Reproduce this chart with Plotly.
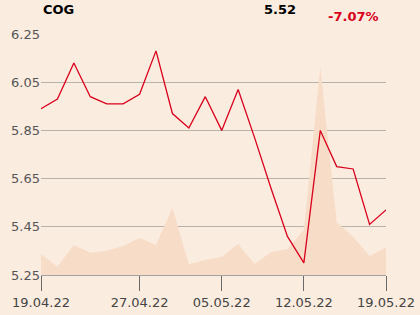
import plotly.graph_objects as go

dates = ["19.04.22", "20.04.22", "21.04.22", "22.04.22", "25.04.22", "26.04.22",
         "27.04.22", "28.04.22", "29.04.22", "02.05.22", "04.05.22", "05.05.22",
         "06.05.22", "09.05.22", "10.05.22", "11.05.22", "12.05.22", "13.05.22",
         "16.05.22", "17.05.22", "18.05.22", "19.05.22"]
price = [5.94, 5.98, 6.13, 5.99, 5.96, 5.96, 6.00, 6.18, 5.92, 5.86, 5.99, 5.85,
         6.02, 5.82, 5.61, 5.41, 5.30, 5.85, 5.70, 5.69, 5.46, 5.52]
volume = [2100, 830, 3000, 2230, 2430, 2900, 3700, 3000, 6700, 1070, 1500, 1830,
          3100, 1100, 2270, 2600, 4500, 20800, 5270, 3830, 1900, 2730]
tick_labels = ["19.04.22", "27.04.22", "05.05.22", "12.05.22", "19.05.22"]
y_ticks = [5.25, 5.45, 5.65, 5.85, 6.05, 6.25]

BG = "#fbece0"
FONT = "DejaVu Sans"

# trading-day index positions (gaps for weekends/holidays removed)
x_idx = list(range(len(dates)))
tick_idx = [dates.index(t) for t in tick_labels]

fig = go.Figure()
fig.add_trace(go.Scatter(x=x_idx, y=volume, yaxis="y", mode="lines",
                         fill="tozeroy", fillcolor="#f7dcc7",
                         line=dict(width=0, color="#f7dcc7"), hoverinfo="skip"))
fig.add_trace(go.Scatter(x=x_idx, y=price, yaxis="y2", mode="lines",
                         customdata=dates,
                         line=dict(color="#d9001b", width=1.3)))

fig.update_layout(
    width=420, height=315,
    margin=dict(l=41, r=34, t=34, b=40),
    paper_bgcolor=BG, plot_bgcolor=BG,
    showlegend=False,
    font=dict(family=FONT, size=13, color="#444444"),
    xaxis=dict(type="linear",
               range=[0, len(dates) - 1], automargin=False,
               tickmode="array", tickvals=tick_idx, ticktext=tick_labels,
               showgrid=False, zeroline=False,
               showline=True, linecolor="#a3a3a3", linewidth=1,
               ticks="outside", ticklen=15, tickcolor="#6a6a6a", tickwidth=1,
               tickfont=dict(family=FONT, size=13, color="#444444")),
    yaxis=dict(range=[0, 24100], showgrid=False, automargin=False,
               showticklabels=False, zeroline=False, showline=False, ticks=""),
    yaxis2=dict(overlaying="y", side="left", range=[5.25, 6.25], tickvals=y_ticks,
                ticktext=[f"{v:.2f}" for v in y_ticks], automargin=False,
                showgrid=True, gridcolor="#b8b2ac", gridwidth=1,
                zeroline=False, showline=False, ticks="",
                tickfont=dict(family=FONT, size=13, color="#555555")),
)

def px(x):
    return (x - 41) / 345

def py(y):
    return (275 - y) / 241

fig.add_annotation(text="<b>COG</b>", x=px(41), y=py(10), xref="paper", yref="paper",
                   xanchor="left", yanchor="middle", showarrow=False,
                   font=dict(family=FONT, size=13, color="#000000"))
fig.add_annotation(text="<b>5.52</b>", x=px(262), y=py(10), xref="paper", yref="paper",
                   xanchor="left", yanchor="middle", showarrow=False,
                   font=dict(family=FONT, size=13, color="#000000"))
fig.add_annotation(text="<b>-7.07%</b>", x=px(326), y=py(16), xref="paper", yref="paper",
                   xanchor="left", yanchor="middle", showarrow=False,
                   font=dict(family=FONT, size=13, color="#d9001b"))

fig.write_html("out.html")
